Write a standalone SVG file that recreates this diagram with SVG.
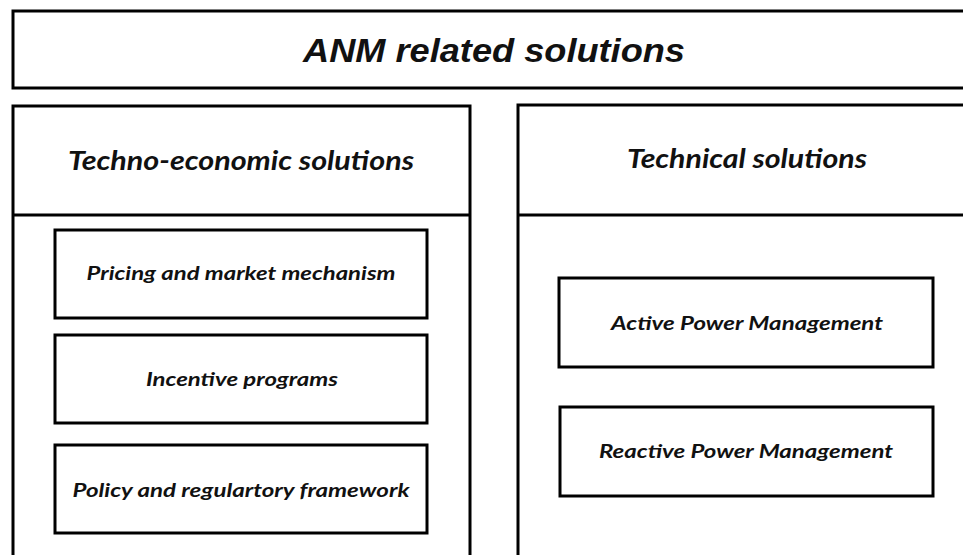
<svg xmlns="http://www.w3.org/2000/svg" width="963" height="555" viewBox="0 0 963 555">
  <style>
    .box { fill: #ffffff; stroke: #000000; stroke-width: 3; }
    .rule { stroke: #000000; stroke-width: 3; }
    text { font-style: italic; font-weight: bold; fill: #111111; text-anchor: middle; }
    .title { font-family: "Liberation Sans", Arial, sans-serif; font-size: 34px; }
    .head { font-family: Lato, "Open Sans", sans-serif; font-size: 26px; }
    .item { font-family: Lato, "Open Sans", sans-serif; font-size: 19px; }
  </style>
  <rect width="963" height="555" fill="#ffffff"/>

  <g id="title">
    <rect class="box" x="13" y="11" width="960" height="77"/>
    <text class="title" x="494" y="62" textLength="382" lengthAdjust="spacingAndGlyphs">ANM related solutions</text>
  </g>

  <g id="techno-economic">
    <rect class="box" x="13" y="106" width="457" height="460"/>
    <line class="rule" x1="13" y1="215" x2="470" y2="215"/>
    <text class="head" x="241" y="170" textLength="346" lengthAdjust="spacingAndGlyphs">Techno-economic solutions</text>
  </g>

  <g id="technical">
    <rect class="box" x="518" y="105" width="460" height="460"/>
    <line class="rule" x1="518" y1="215" x2="963" y2="215"/>
    <text class="head" x="747" y="168" textLength="240" lengthAdjust="spacingAndGlyphs">Technical solutions</text>
  </g>

  <g id="pricing">
    <rect class="box" x="55" y="230" width="372" height="88"/>
    <text class="item" x="241" y="280" textLength="309" lengthAdjust="spacingAndGlyphs">Pricing and market mechanism</text>
  </g>

  <g id="incentive">
    <rect class="box" x="55" y="335" width="372" height="88"/>
    <text class="item" x="242" y="386" textLength="192" lengthAdjust="spacingAndGlyphs">Incentive programs</text>
  </g>

  <g id="policy">
    <rect class="box" x="55" y="445" width="372" height="88"/>
    <text class="item" x="241" y="497" textLength="337" lengthAdjust="spacingAndGlyphs">Policy and regulartory framework</text>
  </g>

  <g id="active-power">
    <rect class="box" x="559" y="278" width="374" height="89"/>
    <text class="item" x="747" y="330" textLength="272" lengthAdjust="spacingAndGlyphs">Active Power Management</text>
  </g>

  <g id="reactive-power">
    <rect class="box" x="560" y="407" width="373" height="89"/>
    <text class="item" x="746" y="458" textLength="294" lengthAdjust="spacingAndGlyphs">Reactive Power Management</text>
  </g>

  <g id="connectors"></g>
</svg>
